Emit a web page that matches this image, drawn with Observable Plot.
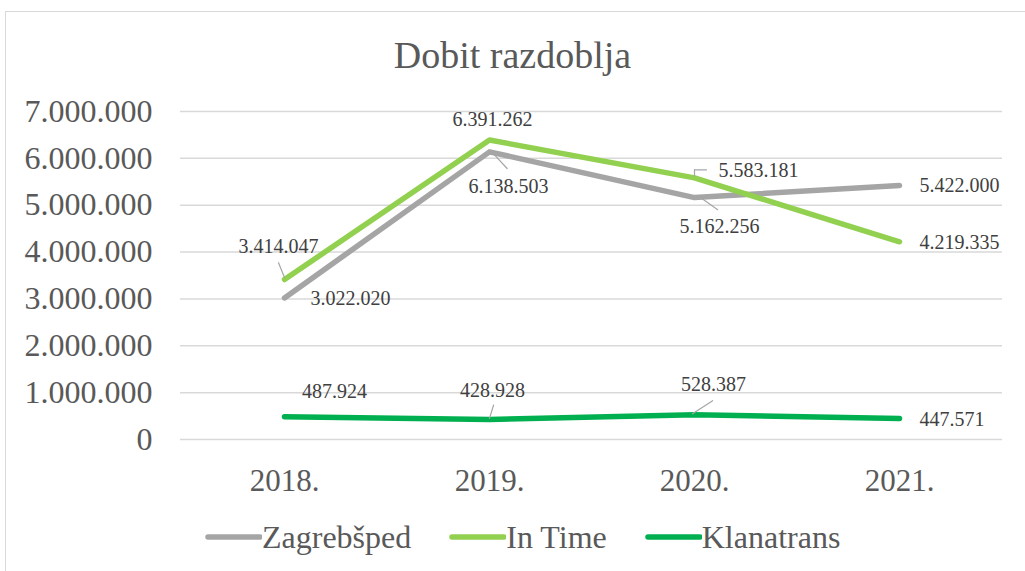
<!DOCTYPE html>
<html>
<head>
<meta charset="utf-8">
<script src="https://cdn.jsdelivr.net/npm/d3@7"></script>
<script src="https://cdn.jsdelivr.net/npm/@observablehq/plot@0.6"></script>
<style>
  html, body { margin: 0; padding: 0; background: #fff; }
  #chart { position: relative; width: 1025px; height: 571px; overflow: hidden; font-family: "Liberation Serif", Tinos, "Times New Roman", Times, "DejaVu Serif", serif; }
  #frame { position: absolute; left: 5px; top: 11px; width: 1040px; height: 600px; border: 1px solid #D9D9D9; box-sizing: border-box; }
  #title { position: absolute; left: 0; width: 1025px; top: 36px; text-align: center; font-size: 38px; line-height: 38px; color: #595959; }
  #legend { position: absolute; left: 205px; top: 521px; display: flex; align-items: center; font-size: 32px; line-height: 32px; color: #595959; }
  #legend .item { display: flex; align-items: center; margin-right: 38px; }
  #legend svg { display: block; }
  #plot { position: absolute; left: 0; top: 0; }
  #plot svg text { font-family: "Liberation Serif", Tinos, "Times New Roman", Times, "DejaVu Serif", serif; }
</style>
</head>
<body>
<div id="chart">
  <div id="frame"></div>
  <div id="plot"></div>
  <div id="title">Dobit razdoblja</div>
  <div id="legend"></div>
</div>
<script>
// ---- data ----
const years = ["2018.", "2019.", "2020.", "2021."];
const zagrebsped = [3022020, 6138503, 5162256, 5422000];
const inTime = [3414047, 6391262, 5583181, 4219335];
const klanatrans = [487924, 428928, 528387, 447571];
const seriesNames = ["Zagrebšped", "In Time", "Klanatrans"];
const seriesColors = ["#A5A5A5", "#92D050", "#00B050"];
const yTicks = [0, 1000000, 2000000, 3000000, 4000000, 5000000, 6000000, 7000000];

// ---- layout config (label offsets in px, per series, per year) ----
const labelLayout = [
  [ {dx: 66, dy: 1}, {dx: 19, dy: 35}, {dx: 25, dy: 29}, {dx: 20, dy: 0, anchor: "start"} ],
  [ {dx: -6, dy: -33}, {dx: 3, dy: -20}, {dx: 64, dy: -7}, {dx: 20, dy: 1, anchor: "start"} ],
  [ {dx: 50, dy: -25}, {dx: 3, dy: -29}, {dx: 19, dy: -30}, {dx: 20, dy: 1, anchor: "start"} ]
];
// leader lines: [series, yearIndex, startDx, startDy, length, rotate]
const leaders = [
  [1, 0, 0, -2, 16, -22],
  [0, 1, 4, 2, 20, 137],
  [1, 2, 0, -2, 6, 0],
  [1, 2, 0, -8, 12, 90],
  [0, 2, 6, 0, 21, 125],
  [2, 1, 0, -1, 14, 17],
  [2, 2, -2, -1, 24, 57]
];

const values = [zagrebsped, inTime, klanatrans];
const locale = d3.formatLocale({decimal: ",", thousands: ".", grouping: [3], currency: ["", ""]});
const fmt = locale.format(",d");
const serifStack = '"Liberation Serif", Tinos, "Times New Roman", Times, "DejaVu Serif", serif';

const rows = [];
values.forEach((vals, s) => vals.forEach((v, i) => rows.push({series: seriesNames[s], year: years[i], value: v, s, i})));

const lineShape = { draw(context, l) { context.moveTo(0, 0); context.lineTo(0, -l); } };

const marks = [
  Plot.ruleY(yTicks, {stroke: "#D9D9D9", strokeWidth: 1.5}),
  Plot.axisY({ticks: yTicks, tickSize: 0, tickPadding: 28, fontSize: 32, tickFormat: fmt, label: null}),
  Plot.axisX({tickSize: 0, tickPadding: 29, fontSize: 31, label: null})
];

seriesNames.forEach((name, s) => {
  marks.push(Plot.line(rows.filter(d => d.s === s), {
    x: "year", y: "value", stroke: seriesColors[s], strokeWidth: 5.5,
    strokeLinecap: "round", strokeLinejoin: "round"
  }));
});

leaders.forEach(([s, i, dx, dy, len, rot]) => {
  marks.push(Plot.vector([{year: years[i], value: values[s][i]}], {
    x: "year", y: "value", dx, dy, length: len, rotate: rot, anchor: "start",
    shape: lineShape, stroke: "#A6A6A6", strokeWidth: 1.2
  }));
});

rows.forEach(d => {
  const L = labelLayout[d.s][d.i];
  marks.push(Plot.text([d], {
    x: "year", y: "value", text: r => fmt(r.value),
    dx: L.dx, dy: L.dy, textAnchor: L.anchor || "middle",
    fontSize: 20, fill: "#404040"
  }));
});

const chart = Plot.plot({
  width: 1025,
  height: 571,
  marginTop: 111,
  marginBottom: 132,
  marginLeft: 180,
  marginRight: 23,
  x: {type: "point", domain: years, padding: 0.5},
  y: {domain: [0, 7000000]},
  style: {fontFamily: serifStack, color: "#595959", background: "transparent", overflow: "visible"},
  marks
});
document.getElementById("plot").appendChild(chart);

// legend
const legend = document.getElementById("legend");
seriesNames.forEach((name, s) => {
  const item = document.createElement("div");
  item.className = "item";
  const ns = "http://www.w3.org/2000/svg";
  const sw = document.createElementNS(ns, "svg");
  sw.setAttribute("width", "57"); sw.setAttribute("height", "10");
  const ln = document.createElementNS(ns, "line");
  ln.setAttribute("x1", "3"); ln.setAttribute("x2", "55");
  ln.setAttribute("y1", "5"); ln.setAttribute("y2", "5");
  ln.setAttribute("stroke", seriesColors[s]); ln.setAttribute("stroke-width", "5.5");
  ln.setAttribute("stroke-linecap", "round");
  sw.appendChild(ln);
  const label = document.createElement("span");
  label.textContent = name;
  item.appendChild(sw); item.appendChild(label);
  legend.appendChild(item);
});
</script>
</body>
</html>
